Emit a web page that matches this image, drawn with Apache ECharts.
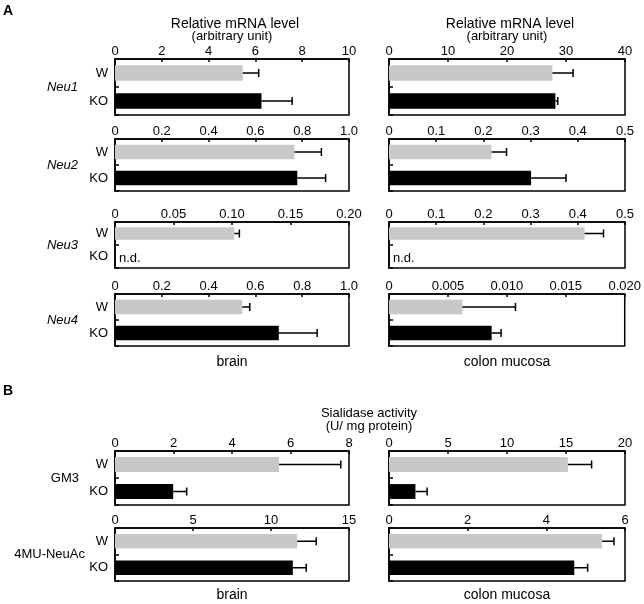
<!DOCTYPE html>
<html><head><meta charset="utf-8">
<script src="https://cdn.jsdelivr.net/npm/echarts@6/dist/echarts.min.js"></script>
<style>html,body{margin:0;padding:0;background:#fff}#c{width:644px;height:604px}</style>
</head><body><div id="c"></div>
<script>
const categories = ['W', 'KO'];
const rowNames = ['Neu1', 'Neu2', 'Neu3', 'Neu4', 'GM3', '4MU-NeuAc'];
const rowItalic = [true, true, true, true, false, false];
// brain: mean and SD per row [W, KO]; null = n.d.
const brainMean = [[5.46, 6.26], [0.767, 0.779], [0.102, null], [0.544, 0.70], [5.61, 1.99], [11.68, 11.4]];
const brainSD   = [[0.68, 1.31], [0.115, 0.121], [0.0043, null], [0.032, 0.164], [2.11, 0.46], [1.22, 0.86]];
// colon mucosa
const colonMean = [[27.7, 28.2], [0.217, 0.301], [0.4145, null], [0.00623, 0.00871], [15.16, 2.24], [5.42, 4.71]];
const colonSD   = [[3.5, 0.4], [0.032, 0.074], [0.04, null], [0.0045, 0.0008], [2.01, 0.99], [0.30, 0.34]];
// tick labels
const brainTicks = [
  ['0', '2', '4', '6', '8', '10'],
  ['0', '0.2', '0.4', '0.6', '0.8', '1.0'],
  ['0', '0.05', '0.10', '0.15', '0.20'],
  ['0', '0.2', '0.4', '0.6', '0.8', '1.0'],
  ['0', '2', '4', '6', '8'],
  ['0', '5', '10', '15']
];
const colonTicks = [
  ['0', '10', '20', '30', '40'],
  ['0', '0.1', '0.2', '0.3', '0.4', '0.5'],
  ['0', '0.1', '0.2', '0.3', '0.4', '0.5'],
  ['0', '0.005', '0.010', '0.015', '0.020'],
  ['0', '5', '10', '15', '20'],
  ['0', '2', '4', '6']
];
const barColors = ['#c8c8c8', '#000000'];

// layout
const colLeft = [115, 389];
const colWidth = [234, 236];
const rowTop = [59, 139, 222, 294, 451, 528];
const rowHeight = [56, 52, 46, 52, 54, 53];
const rowLabelRight = [78, 78, 78, 78, 79, 85];
const FONT = 'Liberation Sans, Arial, sans-serif';

const chart = echarts.init(document.getElementById('c'), null, {renderer: 'canvas'});
const grids = [], xAxes = [], yAxes = [], series = [];
const panels = [[brainMean, brainSD, brainTicks], [colonMean, colonSD, colonTicks]];

let idx = 0;
for (let r = 0; r < 6; r++) {
  for (let c = 0; c < 2; c++) {
    const [means, sds, ticks] = panels[c];
    const labels = ticks[r];
    const interval = parseFloat(labels[1]);
    const max = parseFloat(labels[labels.length - 1]);
    grids.push({left: colLeft[c], top: rowTop[r], width: colWidth[c], height: rowHeight[r],
      show: true, borderColor: '#000', borderWidth: 1.5, backgroundColor: 'transparent'});
    xAxes.push({type: 'value', gridIndex: idx, position: 'top', min: 0, max: max, interval: interval,
      splitLine: {show: false},
      axisLine: {show: true, lineStyle: {color: '#000', width: 1.5}},
      axisTick: {show: true, inside: true, length: 3, lineStyle: {color: '#000', width: 1.5}},
      axisLabel: {fontSize: 13, color: '#000', fontFamily: FONT, margin: 1,
        formatter: (v) => { const i = Math.round(v / interval); return labels[i] !== undefined ? labels[i] : ''; }}
    });
    yAxes.push({type: 'category', gridIndex: idx, data: categories, inverse: true,
      axisLine: {show: true, lineStyle: {color: '#000', width: 1.5}},
      axisTick: {show: true, inside: true, length: 4, lineStyle: {color: '#000', width: 1.5}},
      axisLabel: {show: c === 0, fontSize: 13, color: '#000', fontFamily: FONT, margin: 7}
    });
    const m = means[r], s = sds[r];
    series.push({type: 'bar', xAxisIndex: idx, yAxisIndex: idx, barWidth: '55%', silent: true,
      data: m.map((v, i) => ({value: v === null ? '-' : v, itemStyle: {color: barColors[i]}}))
    });
    series.push({type: 'custom', xAxisIndex: idx, yAxisIndex: idx, silent: true, z: 5,
      data: m.map((v, i) => [v === null ? 0 : v, i]),
      encode: {x: 0, y: 1},
      renderItem: (function (m, s) {
        return function (params, api) {
          const i = params.dataIndex;
          if (m[i] === null) {
            const p = api.coord([0, i]);
            return {type: 'text', style: {text: 'n.d.', x: p[0] + 4, y: p[1] + 2, fontSize: 13,
              fontFamily: FONT, fill: '#000', textVerticalAlign: 'middle', verticalAlign: 'middle'}};
          }
          const a = api.coord([m[i], i]);
          const b = api.coord([m[i] + s[i], i]);
          return {type: 'group', children: [
            {type: 'line', shape: {x1: a[0], y1: a[1], x2: b[0], y2: b[1]}, style: {stroke: '#000', lineWidth: 1.5}},
            {type: 'line', shape: {x1: b[0], y1: b[1] - 4, x2: b[0], y2: b[1] + 4}, style: {stroke: '#000', lineWidth: 1.5}}
          ]};
        };
      })(m, s)
    });
    idx++;
  }
}

const graphics = [];
function txt(t, x, y, opts) {
  graphics.push({type: 'text', x: x, y: y, silent: true,
    style: Object.assign({text: t, fontSize: 13, fontFamily: FONT, fill: '#000', textAlign: 'center', textVerticalAlign: 'middle', align: 'center', verticalAlign: 'middle'}, opts || {})});
}
txt('A', 8, 11, {fontWeight: 'bold', fontSize: 14});
txt('B', 8, 391, {fontWeight: 'bold', fontSize: 14});
for (let c = 0; c < 2; c++) {
  const cx = colLeft[c] + colWidth[c] / 2;
  txt('Relative mRNA level', cx + 3, 24, {fontSize: 14});
  txt('(arbitrary unit)', cx, 36);
  txt(c === 0 ? 'brain' : 'colon mucosa', cx, 362, {fontSize: 14});
  txt(c === 0 ? 'brain' : 'colon mucosa', cx, 595, {fontSize: 14});
}
txt('Sialidase activity', 369, 413);
txt('(U/ mg protein)', 369, 426);
for (let r = 0; r < 6; r++) {
  txt(rowNames[r], rowLabelRight[r], rowTop[r] + rowHeight[r] / 2,
    {textAlign: 'right', align: 'right', fontStyle: rowItalic[r] ? 'italic' : 'normal'});
}

chart.setOption({
  animation: false,
  backgroundColor: '#fff',
  grid: grids, xAxis: xAxes, yAxis: yAxes, series: series,
  graphic: graphics
});
</script></body></html>
